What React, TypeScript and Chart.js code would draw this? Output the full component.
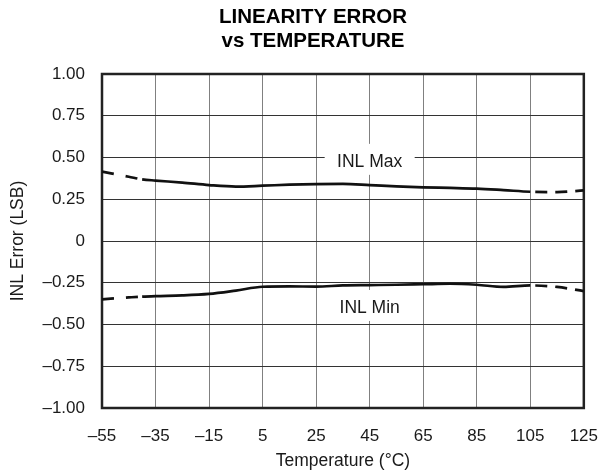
import React, { useEffect, useRef } from "react";
import { Chart, registerables } from "chart.js";

Chart.register(...registerables);

const temps = [-55, -45, -40, -35, -25, -15, -5, 5, 15, 25, 35, 45, 55, 65, 75, 85, 95, 105, 115, 125];
const inlMax = [0.415, 0.385, 0.369, 0.362, 0.35, 0.335, 0.326, 0.331, 0.337, 0.341, 0.342, 0.335, 0.327, 0.321, 0.318, 0.314, 0.305, 0.295, 0.293, 0.303];
const inlMin = [-0.349, -0.338, -0.333, -0.33, -0.326, -0.317, -0.297, -0.274, -0.272, -0.273, -0.266, -0.264, -0.262, -0.259, -0.256, -0.262, -0.275, -0.266, -0.275, -0.3];
const xTicks = [-55, -35, -15, 5, 25, 45, 65, 85, 105, 125];
const yTicks = [-1, -0.75, -0.5, -0.25, 0, 0.25, 0.5, 0.75, 1];
const titleLines = ["LINEARITY ERROR", "vs TEMPERATURE"];
const curveLabels = ["INL Max", "INL Min"];
const curveLabelX = [45, 45];
const curveLabelY = [0.48, -0.395];
const solidFrom = -40;
const solidTo = 105;
const xTitle = "Temperature (°C)";
const yTitle = "INL Error (LSB)";

const FONT = "'Liberation Sans', Arial, Helvetica, sans-serif";
const INK = "#1a1a1a";

const fmtY = (v: number) => {
  if (Math.abs(v) < 1e-9) return "0";
  const s = Math.abs(v).toFixed(2);
  return v < 0 ? "\u2013" + s : s;
};
const fmtX = (v: number) => (v < 0 ? "\u2013" + Math.abs(v) : String(v));

const decorPlugin = {
  id: "decor",
  beforeDatasetsDraw(chart: any) {
    const { ctx, chartArea, scales } = chart;
    const xs = scales.x;
    const ys = scales.y;
    ctx.save();
    ctx.font = `17.5px ${FONT}`;
    ctx.textAlign = "center";
    ctx.textBaseline = "alphabetic";
    curveLabels.forEach((t, i) => {
      const cx = xs.getPixelForValue(curveLabelX[i]);
      const cy = ys.getPixelForValue(curveLabelY[i]);
      ctx.fillStyle = "#ffffff";
      ctx.fillRect(cx - 45, cy - 17, 90, 31);
      ctx.fillStyle = INK;
      ctx.fillText(t, cx, cy + 6);
    });
    ctx.strokeStyle = "#222";
    ctx.lineWidth = 2.5;
    ctx.strokeRect(chartArea.left, chartArea.top, chartArea.right - chartArea.left, chartArea.bottom - chartArea.top);
    ctx.restore();
  },
  afterDraw(chart: any) {
    const { ctx } = chart;
    ctx.save();
    ctx.font = `bold 20.5px ${FONT}`;
    ctx.fillStyle = "#000";
    ctx.textAlign = "center";
    ctx.textBaseline = "alphabetic";
    const cx = chart.width / 2 + 1;
    ctx.fillText(titleLines[0], cx, 15);
    ctx.fillText(titleLines[1], cx, 38.5);
    ctx.restore();
  },
};

export default function App() {
  const ref = useRef<HTMLCanvasElement | null>(null);
  useEffect(() => {
    if (!ref.current) return;
    const dashSeg = (ctx: any) => {
      if (ctx.p1.parsed.x <= solidFrom) return [12, 12];
      if (ctx.p0.parsed.x >= solidTo) return [12, 8];
      return undefined;
    };
    const dashOff = (ctx: any) => (ctx.p0.parsed.x >= solidTo ? 15 : 0);
    const mk = (label: string, vals: number[]) => ({
      label,
      data: temps.map((t, i) => ({ x: t, y: vals[i] })),
      borderColor: "#111",
      borderWidth: 2.7,
      pointRadius: 0,
      cubicInterpolationMode: "monotone",
      segment: { borderDash: dashSeg, borderDashOffset: dashOff },
    });
    const chart = new Chart(ref.current, {
      type: "line",
      data: {
        datasets: [mk(curveLabels[0], inlMax), mk(curveLabels[1], inlMin)],
      },
      options: {
        animation: false,
        responsive: false,
        maintainAspectRatio: false,
        layout: { padding: { top: 66, right: 18, left: 0, bottom: 0 } },
        plugins: {
          legend: { display: false },
          title: { display: false },
          tooltip: { enabled: false },
        },
        scales: {
          x: {
            type: "linear",
            min: -55,
            max: 125,
            afterBuildTicks: (s: any) => {
              s.ticks = xTicks.map((v) => ({ value: v }));
            },
            afterFit: (s: any) => {
              s.height = 68;
            },
            grid: { color: "#808080", lineWidth: 1, drawTicks: false },
            border: { display: false },
            ticks: {
              padding: 18,
              color: INK,
              font: { family: FONT, size: 17 },
              callback: (v: any) => fmtX(Number(v)),
              maxRotation: 0,
              autoSkip: false,
            },
            title: {
              display: true,
              text: xTitle,
              color: INK,
              font: { family: FONT, size: 17.5 },
              padding: { top: 0, bottom: 4.5 },
            },
          },
          y: {
            type: "linear",
            min: -1,
            max: 1,
            afterBuildTicks: (s: any) => {
              s.ticks = yTicks.map((v) => ({ value: v }));
            },
            afterFit: (s: any) => {
              s.width = 94;
            },
            grid: { color: "#333", lineWidth: 1, drawTicks: false },
            border: { display: false },
            ticks: {
              padding: 17,
              color: INK,
              font: { family: FONT, size: 17 },
              callback: (v: any) => fmtY(Number(v)),
              autoSkip: false,
            },
            title: {
              display: true,
              text: yTitle,
              color: INK,
              font: { family: FONT, size: 17.5 },
              padding: { top: 0, bottom: 0 },
            },
          },
        },
      },
      plugins: [decorPlugin],
    } as any);
    return () => chart.destroy();
  }, []);
  return (
    <div style={{ width: 608, height: 468 }}>
      <canvas ref={ref} width={608} height={468} style={{ display: "block", width: 608, height: 468 }} />
    </div>
  );
}
